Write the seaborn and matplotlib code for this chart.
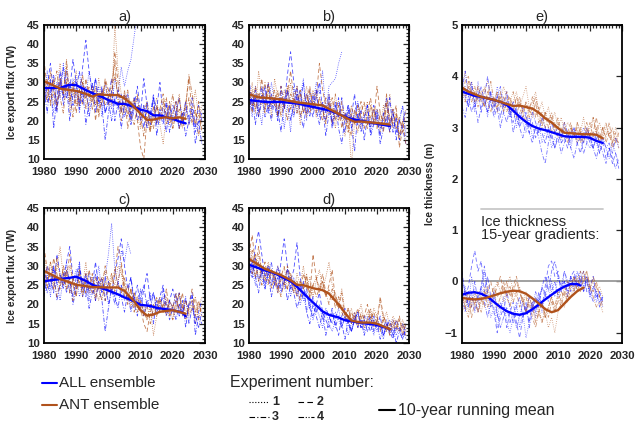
import numpy as np
import pandas as pd
import matplotlib
matplotlib.use("Agg")
import matplotlib.pyplot as plt
from matplotlib.lines import Line2D
from matplotlib.ticker import MultipleLocator
import seaborn as sns

sns.set_style("white")
plt.rcParams['font.family'] = ['Liberation Sans', 'DejaVu Sans']

nan = np.nan
years = np.arange(1980, 2030)
gyears = np.arange(1980, 2025)

# ---------------- panel a ----------------
a_all = [
    [25,33,28,22,30,26,35,29,24,31,27,22,30,26,33,28,24,29,21,30,26,23,31,27,34,29,33,36,42,48]+[nan]*20,
    [24,29,35,27,22,31,26,33,28,36,30,24,34,41,33,27,31,25,29,22,26,31,24,28,22,27,25,20,24,29,22,31,24,19,26,23,30,21,25,20,24,22,26,19,23,21,26,18,24,20],
    [28,22,31,18,26,33,24,29,20,27,31,23,28,19,25,30,22,27,24,15,22,28,20,25,18,24,27,21,26,20,23,18,25,21,27,16,22,19,24,17,21,25,18,22,16,20,23,14,19,22],
    [30,25,27,32,23,29,34,26,30,24,28,33,25,29,21,26,31,24,28,22,25,20,26,23,27,21,24,19,23,26,20,24,18,22,26,19,23,21,17,24,20,22,18,21,25,19,22,17,20,14],
]
a_ant = [
    [33,27,30,24,29,35,26,31,22,28,33,25,30,27,23,29,24,31,26,30,28,24,45,33,27,22,26,20,25,21,18,24,20,17,22,26,19,14,21,24,18,22,27,20,25,19,23,28,21,24],
    [36,28,25,31,23,30,27,34,25,29,22,28,24,31,26,29,20,27,24,31,28,25,38,30,22,27,18,23,26,20,13,10,21,17,24,19,23,27,21,25,18,22,26,20,24,31,22,19,25,17],
    [27,31,24,29,33,26,22,30,27,21,28,24,30,26,29,23,27,21,26,30,24,28,32,26,20,24,28,22,19,24,21,16,23,20,18,24,21,25,19,22,27,20,23,18,21,26,19,23,16,21],
    [29,25,33,28,24,31,27,36,26,30,24,28,32,23,27,25,29,22,28,24,26,30,35,25,23,28,21,25,23,27,19,22,25,18,21,24,20,23,26,19,22,25,18,21,24,32,27,22,20,23],
]
a_all_mean_yr = [1980,1985,1988,1990,1993,1995,1998,2000,2003,2005,2008,2010,2012,2014,2016,2018,2020,2022,2024]
a_all_mean    = [28.5,28.6,29.4,29.3,28.0,27.2,26.2,25.4,24.4,24.4,23.6,22.9,22.5,21.4,21.4,20.9,20.5,19.8,19.3]
a_ant_mean_yr = [1980,1983,1985,1988,1990,1993,1995,1997,2000,2003,2005,2007,2008,2010,2012,2014,2016,2018,2020,2022,2024]
a_ant_mean    = [30.3,29.2,28.4,28.0,27.8,27.0,26.3,26.9,26.7,26.7,25.8,24.5,23.6,21.8,20.2,20.3,20.7,20.9,20.6,20.9,20.5]

# ---------------- panel b ----------------
b_all = [
    [26,21,29,24,19,27,23,30,25,21,28,18,24,17,29,22,26,31,20,28,24,30,27,33,22,29,30,31,35,38]+[nan]*20,
    [31,24,28,22,27,25,30,23,26,21,29,24,32,38,30,25,28,22,27,24,21,26,30,23,20,25,18,22,26,20,17,24,21,27,19,23,15,21,18,24,20,16,22,19,26,17,21,15,19,23],
    [22,27,19,25,29,21,24,20,26,23,17,25,28,20,24,29,22,18,25,21,27,23,19,24,16,22,20,25,18,14,21,24,19,12,22,17,20,24,16,19,22,14,18,21,17,23,15,20,18,14],
    [28,23,26,21,25,29,22,27,24,20,26,23,28,25,21,27,24,30,22,26,23,28,21,25,22,27,19,24,21,26,20,23,18,22,25,19,21,24,17,20,23,18,21,26,19,22,17,20,24,16],
]
b_ant = [
    [25,30,22,33,27,24,29,21,31,26,23,28,25,30,22,27,19,25,29,23,28,21,26,24,20,27,23,18,25,21,16,22,8,20,24,18,22,25,19,23,21,17,24,20,27,18,22,15,20,23],
    [27,22,29,25,31,23,28,24,26,21,29,23,27,33,26,24,28,22,25,29,23,26,35,28,24,22,26,20,24,18,22,19,16,23,20,25,21,18,24,20,29,22,19,25,17,21,24,13,18,22],
    [29,24,27,21,26,30,23,25,28,22,26,24,20,27,25,29,21,24,27,22,25,28,23,20,26,24,19,23,21,25,20,17,22,19,24,21,18,22,26,19,23,20,17,24,21,19,22,16,20,14],
    [24,28,23,27,25,22,30,26,24,28,21,25,29,23,26,22,27,25,21,28,24,22,26,23,19,25,22,27,20,23,21,18,24,20,17,22,25,19,21,23,18,22,20,27,19,23,18,21,17,19],
]
b_all_mean_yr = [1980,1985,1990,1995,2000,2005,2008,2010,2013,2015,2020,2024]
b_all_mean    = [25.4,24.9,24.9,24.5,23.6,22.7,21.8,21.0,20.3,20.0,19.2,18.6]
b_ant_mean_yr = [1980,1983,1985,1990,1995,2000,2003,2005,2008,2010,2013,2015,2020,2024]
b_ant_mean    = [26.9,26.1,26.0,25.6,24.8,24.3,24.0,23.1,21.8,20.9,19.7,19.8,19.4,19.0]

# ---------------- panel c ----------------
c_all = [
    [24,28,22,30,26,21,27,31,23,26,29,22,25,28,21,26,24,30,23,27,33,41,29,25,34,31,36,33]+[nan]*22,
    [25,30,27,23,33,28,25,31,35,27,24,29,26,22,28,25,31,24,27,21,26,23,28,32,37,30,24,27,21,25,19,24,28,21,23,19,22,25,18,21,24,20,23,17,21,19,22,15,18,21],
    [22,27,24,29,21,25,28,23,26,20,24,30,22,26,19,23,28,24,21,13,19,24,20,26,22,18,23,27,20,17,22,25,19,23,15,21,18,24,20,16,19,23,17,21,14,20,23,12,17,15],
    [27,23,26,30,25,28,24,29,26,22,27,31,24,28,23,25,21,26,23,27,20,24,22,19,25,21,23,18,22,20,24,17,21,19,23,18,20,22,17,21,19,16,20,18,22,15,19,17,14,18],
]
c_ant = [
    [33,28,31,25,29,35,27,24,30,26,22,28,25,31,23,27,24,21,26,29,23,27,25,30,28,24,22,19,23,21,18,20,16,19,12,17,21,18,22,20,16,19,23,17,21,18,20,15,19,22],
    [35,29,26,32,28,24,30,27,33,25,22,28,26,23,29,25,21,27,24,30,26,23,28,35,31,25,20,24,18,22,19,15,13,18,20,17,21,19,24,18,16,21,19,23,17,20,24,18,21,17],
    [28,24,31,27,22,26,29,24,27,21,25,29,23,26,24,28,22,25,27,21,24,26,29,25,23,27,21,24,20,18,21,17,20,15,19,22,18,20,17,21,19,23,18,20,16,19,21,17,20,18],
    [30,26,28,24,32,27,25,29,23,27,24,26,22,28,25,23,27,24,21,26,25,28,23,26,30,22,25,20,23,19,21,18,16,20,17,19,22,18,21,17,20,18,23,19,21,17,19,22,16,20],
]
c_all_mean_yr = [1980,1985,1988,1990,1993,1995,2000,2003,2005,2008,2010,2013,2015,2020,2023,2024]
c_all_mean    = [26.0,26.6,26.9,27.2,26.1,25.1,23.6,22.6,21.8,20.8,19.9,19.6,19.1,18.5,17.9,16.9]
c_ant_mean_yr = [1980,1985,1990,1995,2000,2003,2005,2008,2010,2012,2014,2016,2020,2024]
c_ant_mean    = [28.7,26.6,25.1,24.5,24.4,24.4,23.5,20.8,18.5,17.1,17.4,18.1,18.5,17.6]

# ---------------- panel d ----------------
d_all = [
    [34,29,25,31,27,24,30,26,28,23,27,25,29,22,26,24,20,23,18,21,16,19,17,14,18,15,13,16,19,14,17,12,15,18,14,16,13,17,15,12,16,14,11,15,13,16,12,14,11,13],
    [32,28,35,39,33,27,30,25,28,24,31,37,30,26,29,36,27,22,24,19,17,20,23,18,16,14,18,15,12,17,19,15,13,16,18,14,17,15,13,16,14,17,12,15,13,11,16,14,12,15],
    [26,31,27,23,29,25,28,22,26,30,24,27,21,25,23,19,22,26,18,15,20,17,14,18,12,16,19,14,17,15,11,16,13,17,14,16,12,15,17,13,15,11,14,16,12,14,10,13,15,11],
    [30,27,32,26,29,24,28,31,25,27,23,26,29,24,27,22,25,21,23,19,22,18,20,16,19,17,15,18,16,14,17,15,13,16,18,14,16,13,15,17,13,15,12,14,16,12,14,13,11,14],
]
d_ant = [
    [36,31,27,33,29,26,31,28,25,30,27,24,29,26,23,28,25,30,24,27,22,26,29,24,27,31,25,22,20,24,18,16,19,15,17,20,16,18,15,19,17,21,16,18,14,17,15,13,16,14],
    [33,38,30,35,28,31,26,29,27,24,28,25,30,27,24,26,23,28,25,22,33,27,24,26,22,25,29,21,19,23,17,15,18,16,19,15,17,20,16,18,15,22,17,15,13,16,14,17,12,15],
    [29,34,27,31,25,28,30,24,27,25,22,26,24,27,23,25,21,24,27,23,25,22,24,28,23,20,24,19,22,18,16,19,15,17,14,18,16,15,18,14,16,13,17,15,12,15,13,16,14,12],
    [31,28,33,26,30,27,25,29,26,23,27,30,24,28,25,22,26,24,28,21,25,27,23,26,22,24,21,23,19,20,17,19,16,18,15,17,14,16,19,15,17,14,16,13,15,14,16,13,15,13],
]
d_all_mean_yr = [1980,1985,1988,1990,1993,1995,1998,2000,2003,2005,2008,2010,2015,2020,2024]
d_all_mean    = [30.3,28.8,28.1,27.2,26.0,24.6,22.1,20.5,18.2,17.3,16.6,15.9,15.2,14.7,13.6]
d_ant_mean_yr = [1980,1985,1990,1993,1995,1997,2000,2003,2005,2008,2010,2012,2015,2018,2020,2024]
d_ant_mean    = [31.8,29.2,27.6,26.3,25.1,25.0,24.2,23.7,22.8,20.0,17.8,15.8,15.3,15.3,15.0,13.6]

# ---------------- panel e : thickness ----------------
e_all = [
    [3.5,3.8,3.4,3.7,3.3,3.9,3.5,3.6,3.2,3.7,3.4,3.8,3.5,3.3,3.6,3.2,3.4,3.0,3.3,3.1,2.9,3.2,2.8,3.0,3.1,2.7,2.9,3.0,2.6,2.8,2.9,2.7,3.0,2.8,2.6,2.9,2.7,2.8,3.0,2.7,2.6,2.9,2.7,2.5,2.8,2.6,2.4,2.7,2.5,2.3],
    [3.9,3.6,3.4,3.8,3.5,3.7,3.3,3.6,4.0,3.5,3.3,3.6,3.2,3.5,3.7,3.3,3.1,3.4,3.0,3.2,3.3,2.9,3.1,2.8,3.0,2.9,2.7,3.0,2.8,2.6,2.9,2.7,2.8,2.6,2.9,3.0,2.7,2.5,2.8,2.9,2.7,2.6,2.8,2.5,2.7,2.4,2.6,2.3,2.5,2.2],
    [3.4,3.2,3.6,3.3,3.5,3.1,3.4,3.6,3.3,3.5,3.2,3.4,3.0,3.3,3.1,3.4,2.9,3.2,3.0,2.8,3.1,2.9,2.7,3.0,2.8,2.5,2.3,2.7,2.9,2.6,2.8,2.5,2.7,2.9,2.6,2.4,2.7,2.8,2.5,2.7,2.9,2.6,2.4,2.7,2.5,2.3,2.6,2.4,2.2,2.4],
    [3.7,4.1,3.6,3.9,3.4,3.6,3.8,3.5,3.3,3.7,3.4,3.6,3.8,3.4,3.5,3.2,3.5,3.3,3.1,3.4,3.2,3.0,3.3,3.1,2.9,3.2,3.0,2.8,3.1,2.9,3.0,2.8,3.1,2.9,2.7,3.0,2.8,2.9,2.7,3.0,2.8,2.6,2.9,2.7,2.8,2.6,2.7,2.5,2.8,2.6],
]
e_ant = [
    [3.8,4.1,3.7,3.9,3.6,3.8,3.5,3.7,3.9,3.6,3.4,3.7,3.5,3.8,3.6,3.3,3.5,3.7,3.4,3.6,3.8,3.4,3.5,3.7,3.3,3.5,3.2,3.4,3.1,3.3,3.0,3.2,2.9,3.1,3.0,2.8,3.1,2.9,3.2,2.8,3.0,3.2,2.9,3.1,2.8,3.0,2.9,2.7,3.0,2.8],
    [3.6,3.9,4.0,3.7,3.5,3.8,3.6,3.4,3.7,3.5,3.6,3.3,3.6,3.4,3.7,3.5,3.3,3.6,3.4,3.2,3.5,3.3,3.6,3.2,3.4,3.1,3.3,3.0,3.2,2.9,3.1,2.8,3.0,2.9,3.1,2.8,3.0,2.7,2.9,3.1,2.8,2.9,3.2,2.8,3.0,2.7,2.9,2.6,2.8,2.7],
    [3.9,3.6,3.8,3.5,3.7,3.4,3.6,3.8,3.5,3.3,3.6,3.4,3.7,3.3,3.5,3.6,3.4,3.2,3.5,3.3,3.1,3.4,3.2,3.5,3.1,3.3,3.0,3.2,2.9,3.1,2.8,3.0,2.9,2.7,3.0,2.8,3.1,2.9,2.7,3.0,2.8,3.2,2.9,2.7,3.0,2.8,3.1,2.7,2.9,2.6],
    [3.7,3.5,3.9,3.6,3.8,3.5,3.7,3.4,3.6,3.9,3.5,3.7,3.4,3.6,3.3,3.5,3.7,3.4,3.6,3.3,3.5,3.2,3.4,3.6,3.3,3.0,3.3,3.1,3.3,3.0,3.2,2.9,3.1,2.8,3.0,2.9,2.7,3.0,2.8,2.9,3.1,2.8,3.0,2.7,2.9,3.1,2.8,3.0,2.7,2.9],
]
e_all_mean_yr = [1980,1984,1988,1992,1994,1996,1998,2000,2002,2004,2006,2008,2010,2012,2014,2016,2018,2020,2022,2024]
e_all_mean    = [3.70,3.62,3.57,3.50,3.44,3.33,3.21,3.11,3.03,2.98,2.95,2.91,2.87,2.83,2.82,2.82,2.82,2.80,2.74,2.70]
e_ant_mean_yr = [1980,1982,1984,1986,1988,1990,1992,1994,1996,1998,2000,2002,2004,2006,2008,2010,2012,2014,2016,2018,2020,2022,2024]
e_ant_mean    = [3.78,3.70,3.65,3.60,3.57,3.54,3.50,3.46,3.42,3.43,3.40,3.37,3.29,3.18,3.10,2.99,2.90,2.89,2.88,2.87,2.87,2.86,2.79]

# ---------------- panel e : 15-year gradients ----------------
g_all = [
    [0.1,-0.2,-0.5,0.1,-0.3,-0.6,-0.2,0.2,-0.4,-0.7,-0.5,-0.9,-0.6,-0.3,-0.8,-1.0,-0.7,-0.4,-0.9,-0.6,-1.1,-0.8,-0.5,-0.7,-0.3,-0.6,-0.2,-0.4,0.0,-0.3,0.1,-0.2,0.2,-0.1,0.1,-0.2,0.0,0.2,-0.1,0.1,-0.3,-0.1,-0.4,-0.2,-0.5],
    [0.2,-0.3,-0.1,0.3,0.6,0.2,0.4,-0.2,0.1,-0.3,-0.6,-1.0,-0.7,-0.5,-0.9,-0.6,-0.4,-0.8,-1.1,-0.7,-0.5,-0.8,-0.4,-0.6,-0.2,-0.5,-0.1,0.3,0.4,0.1,0.2,-0.2,0.0,-0.3,0.1,0.2,-0.1,0.0,0.2,-0.2,-0.1,0.1,-0.3,-0.2,-0.4],
    [-0.3,-0.6,-0.2,-0.5,0.0,-0.4,-0.1,0.3,-0.2,-0.5,-0.3,-0.7,-0.4,-0.6,-0.2,-0.5,-0.8,-0.5,-0.3,-0.7,-0.4,-0.9,-0.6,-0.3,-0.5,-0.1,0.1,-0.2,0.2,0.4,0.1,-0.1,0.2,0.0,-0.2,0.1,-0.1,0.1,-0.2,0.0,-0.3,-0.1,-0.2,-0.4,-0.3],
    [-0.4,-0.1,-0.5,-0.2,-0.6,-0.3,-0.1,-0.4,-0.7,-0.4,-0.2,-0.6,-0.9,-0.7,-0.5,-0.8,-0.6,-0.9,-0.7,-0.4,-0.6,-0.3,-0.5,-0.2,-0.4,-0.1,-0.3,0.1,-0.2,0.0,-0.3,-0.1,0.0,-0.2,0.1,-0.1,0.2,0.0,-0.2,0.1,-0.2,-0.4,-0.2,-0.5,-0.3],
]
g_ant = [
    [-0.5,-0.2,-0.6,-0.3,-0.5,-0.2,-0.4,-0.1,-0.3,-0.5,-0.2,0.0,-0.2,-0.4,-0.1,0.1,-0.2,-0.3,-0.1,-0.4,-0.2,-0.5,-0.4,-0.7,-0.5,-0.8,-0.6,-0.9,-0.7,-1.0,-0.6,-0.4,-0.5,-0.2,-0.3,-0.1,0.0,-0.2,0.1,0.2,-0.1,0.0,-0.2,-0.1,-0.3],
    [-0.2,-0.5,-0.3,-0.7,-0.4,-0.6,-0.3,-0.5,-0.2,0.0,-0.3,-0.1,0.1,-0.2,0.0,-0.3,-0.1,0.1,-0.2,-0.4,-0.3,-0.6,-0.5,-0.3,-0.6,-0.4,-0.7,-0.5,-0.3,-0.6,-0.4,-0.2,-0.3,0.0,-0.1,0.1,-0.2,0.2,0.0,0.1,-0.1,-0.2,0.0,-0.3,-0.4],
    [-0.6,-0.4,-0.2,-0.5,-0.3,-0.6,-0.4,-0.2,-0.5,-0.3,-0.1,-0.3,-0.2,0.0,-0.3,-0.1,-0.4,-0.2,-0.5,-0.3,-0.6,-0.4,-0.7,-0.9,-0.6,-0.8,-0.5,-0.7,-0.4,-0.6,-0.3,-0.5,-0.2,-0.4,-0.1,0.1,-0.2,0.0,0.2,0.0,-0.2,0.1,-0.1,-0.3,-0.5],
    [-0.3,-0.5,-0.7,-0.4,-0.2,-0.4,-0.6,-0.3,-0.1,-0.4,-0.2,-0.5,-0.3,-0.1,-0.3,-0.5,-0.2,0.0,-0.2,-0.4,-0.6,-0.3,-0.5,-0.8,-0.6,-0.4,-0.7,-0.5,-0.3,-0.5,-0.2,-0.4,-0.1,-0.3,0.0,-0.2,0.1,-0.1,0.0,0.2,-0.1,-0.3,-0.5,-0.4,-0.6],
]
g_all_mean_yr = [1980,1982,1984,1986,1988,1990,1992,1994,1996,1998,2000,2002,2004,2006,2008,2010,2012,2014,2016,2017]
g_all_mean    = [-0.26,-0.22,-0.21,-0.24,-0.30,-0.40,-0.50,-0.58,-0.63,-0.65,-0.62,-0.54,-0.45,-0.35,-0.26,-0.17,-0.10,-0.05,-0.05,-0.08]
g_ant_mean_yr = [1980,1982,1984,1986,1988,1990,1992,1994,1996,1998,2000,2002,2004,2006,2008,2010,2012,2014,2016,2018]
g_ant_mean    = [-0.32,-0.34,-0.35,-0.34,-0.31,-0.27,-0.23,-0.20,-0.18,-0.19,-0.24,-0.33,-0.43,-0.54,-0.60,-0.56,-0.43,-0.30,-0.19,-0.12]

panel_labels = ["a)", "b)", "c)", "d)", "e)"]

# ---------------- styling ----------------
BLUE = "#0000ff"
BROWN = "#b0521c"
STYLES = [(0, (1, 1.6)), (0, (5, 3)), (0, (5, 2, 1, 2)), (0, (5, 1.5, 1, 1.5, 1, 1.5))]
TH = 0.6
TK = 1.7

W, H = 635, 425
fig = plt.figure(figsize=(W / 100, H / 100), dpi=100)


def add_ax(l, r, t, b):
    return fig.add_axes([l / W, 1 - b / H, (r - l) / W, (b - t) / H])


def line(ax, x, y, color, lw, ls='-', alpha=1.0):
    x = np.asarray(x, float)
    y = np.asarray(y, float)
    m = ~np.isnan(y)
    df = pd.DataFrame({"x": x[m], "y": y[m]})
    sns.lineplot(data=df, x="x", y="y", ax=ax, color=color, lw=lw,
                 linestyle=ls, alpha=alpha, sort=False)


def style_ax(ax, title):
    ax.set_xlim(1980, 2030)
    ax.xaxis.set_major_locator(MultipleLocator(10))
    ax.xaxis.set_minor_locator(MultipleLocator(1))
    ax.tick_params(direction='in', top=True, right=True, which='both',
                   width=0.9, labelsize=8.2, pad=3)
    ax.tick_params(axis='x', which='major', pad=6)
    ax.tick_params(which='major', length=4.5)
    ax.tick_params(which='minor', length=2)
    for lab in ax.get_xticklabels() + ax.get_yticklabels():
        lab.set_fontweight('bold')
    for s in ax.spines.values():
        s.set_linewidth(1.3)
        s.set_color('black')
    ax.set_xlabel("")
    ax.set_ylabel("")
    ax.set_title(title, fontsize=10.5, pad=3)


flux_panels = [
    (a_all, a_ant, a_all_mean_yr, a_all_mean, a_ant_mean_yr, a_ant_mean, (44, 205, 25, 159), True),
    (b_all, b_ant, b_all_mean_yr, b_all_mean, b_ant_mean_yr, b_ant_mean, (249, 409, 25, 159), False),
    (c_all, c_ant, c_all_mean_yr, c_all_mean, c_ant_mean_yr, c_ant_mean, (44, 205, 208, 343), True),
    (d_all, d_ant, d_all_mean_yr, d_all_mean, d_ant_mean_yr, d_ant_mean, (249, 409, 208, 343), False),
]

for i, (sall, sant, ya, ma, yb, mb, pos, lab) in enumerate(flux_panels):
    ax = add_ax(*pos)
    for k in range(4):
        line(ax, years, sall[k], BLUE, TH, STYLES[k], 0.7)
        line(ax, years, sant[k], BROWN, TH, STYLES[k], 0.75)
    line(ax, ya, ma, BLUE, TK)
    line(ax, yb, mb, BROWN, TK)
    ax.set_ylim(10, 45)
    ax.yaxis.set_major_locator(MultipleLocator(5))
    ax.yaxis.set_minor_locator(MultipleLocator(1))
    style_ax(ax, panel_labels[i])
    if lab:
        ax.set_ylabel("Ice export flux (TW)", fontsize=7.3, fontweight='bold')
        ax.yaxis.set_label_coords(-0.165, 0.5)

# panel e
ax = add_ax(462, 622, 25, 343)
ax.axhline(0, color='#999999', lw=1.3, zorder=1)
ax.plot([1986, 2024], [1.42, 1.42], color='#c8c8c8', lw=1.3, zorder=1)
for k in range(4):
    line(ax, years, e_all[k], BLUE, TH, STYLES[k], 0.55)
    line(ax, years, e_ant[k], BROWN, TH, STYLES[k], 0.6)
    line(ax, gyears, g_all[k], BLUE, TH, STYLES[k], 0.55)
    line(ax, gyears, g_ant[k], BROWN, TH, STYLES[k], 0.6)
line(ax, e_all_mean_yr, e_all_mean, BLUE, TK)
line(ax, e_ant_mean_yr, e_ant_mean, BROWN, TK)
line(ax, g_all_mean_yr, g_all_mean, BLUE, TK)
line(ax, g_ant_mean_yr, g_ant_mean, BROWN, TK)
ax.set_ylim(-1.2, 5)
ax.yaxis.set_major_locator(MultipleLocator(1))
style_ax(ax, panel_labels[4])
ax.set_ylabel("Ice thickness (m)", fontsize=7.3, fontweight='bold')
ax.yaxis.set_label_coords(-0.17, 0.5)
ax.text(1986, 1.30, "Ice thickness\n15-year gradients:", fontsize=10.5,
        va='top', ha='left', linespacing=0.95)

# ---------------- bottom legend ----------------
def fline(x0, x1, y, **kw):
    fig.add_artist(Line2D([x0 / W, x1 / W], [1 - y / H, 1 - y / H],
                          transform=fig.transFigure, **kw))


def ftext(x, y, s, **kw):
    fig.text(x / W, 1 - y / H, s, va='center', ha='left', **kw)


fline(42, 57, 383, color=BLUE, lw=1.5)
ftext(59, 383, "ALL ensemble", fontsize=11)
fline(42, 57, 405, color=BROWN, lw=1.5)
ftext(59, 405, "ANT ensemble", fontsize=11)
ftext(230, 383, "Experiment number:", fontsize=11.5)
fline(249, 269, 402, color='black', lw=0.8, linestyle=STYLES[0])
ftext(272, 402, "1", fontsize=9, fontweight='bold')
fline(298, 314, 402, color='black', lw=0.8, linestyle=STYLES[1])
ftext(317, 402, "2", fontsize=9, fontweight='bold')
fline(249, 269, 417, color='black', lw=0.8, linestyle=STYLES[2])
ftext(272, 417, "3", fontsize=9, fontweight='bold')
fline(298, 314, 417, color='black', lw=0.8, linestyle=STYLES[3])
ftext(317, 417, "4", fontsize=9, fontweight='bold')
fline(379, 395, 410, color='black', lw=1.5)
ftext(398, 410, "10-year running mean", fontsize=11.5)

fig.savefig("out.png", dpi=100)
